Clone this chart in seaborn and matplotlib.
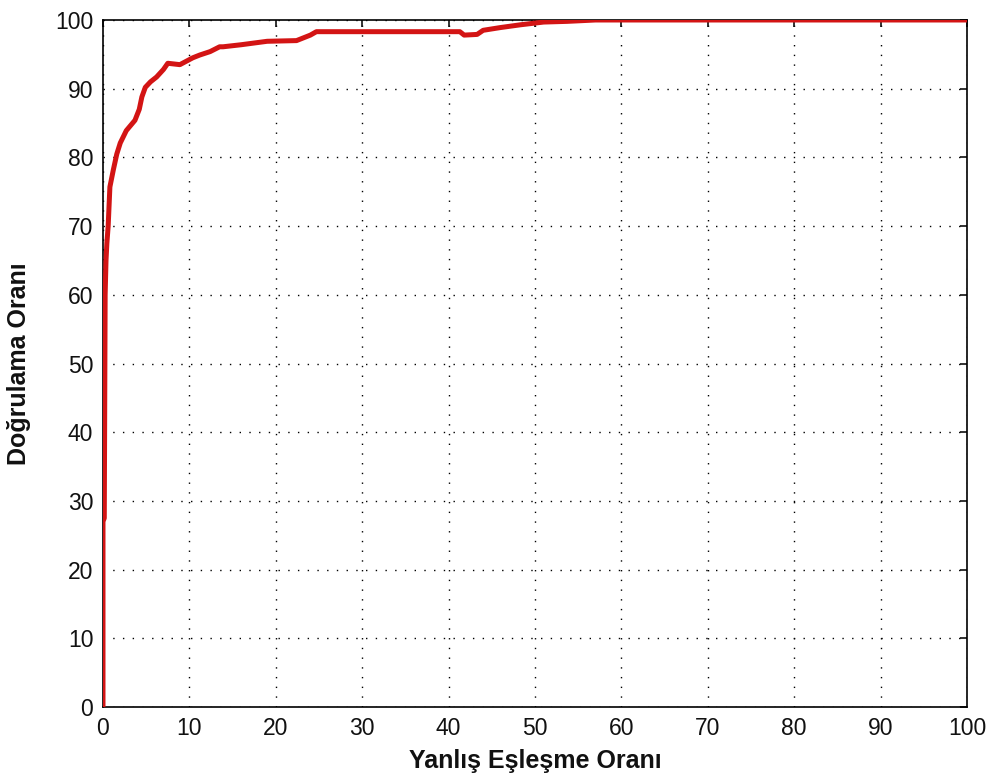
import matplotlib
matplotlib.use("Agg")
import matplotlib.pyplot as plt
import seaborn as sns
import pandas as pd

# ROC-style curve: false match rate vs. verification rate (percent)
false_match_rate = [0.0, 0.0, 0.15, 0.25, 0.35, 0.45, 0.6, 0.8, 1.2, 1.6, 2.0, 2.7,
                    3.7, 4.2, 4.5, 4.9, 5.5, 6.2, 7.0, 7.5, 8.9, 10.4, 11.2,
                    12.4, 13.5, 13.9, 16.0, 19.0, 22.4, 24.0, 24.7, 30.0,
                    35.0, 41.3, 41.8, 43.3, 44.0, 46.0, 48.3, 51.0, 53.7,
                    57.0, 70.0, 85.0, 100.0]
verification_rate = [0.0, 27.0, 27.5, 60.0, 65.0, 67.5, 70.0, 75.7, 78.2, 80.5, 82.1, 83.9,
                     85.4, 87.0, 88.8, 90.2, 91.0, 91.7, 92.8, 93.7, 93.5, 94.5, 94.9,
                     95.4, 96.1, 96.1, 96.4, 96.9, 97.0, 97.8, 98.3, 98.3,
                     98.3, 98.3, 97.8, 97.9, 98.5, 98.9, 99.3, 99.7, 99.8,
                     100.0, 100.0, 100.0, 100.0]
tick_values = list(range(0, 101, 10))

df = pd.DataFrame({"far": false_match_rate, "vr": verification_rate})

sns.set_style("white")
plt.rcParams["font.family"] = ["Liberation Sans", "DejaVu Sans"]

fig = plt.figure(figsize=(9.95, 7.84), dpi=100)
ax = fig.add_axes([0.1035, 0.0982, 0.8684, 0.8763])

sns.lineplot(data=df, x="far", y="vr", ax=ax, color="#d31414",
             linewidth=3.6, sort=False, estimator=None, zorder=3)

ax.set_xlim(0, 100)
ax.set_ylim(0, 100)
ax.set_xticks(tick_values)
ax.set_yticks(tick_values)
ax.set_xticklabels([str(v) for v in tick_values])
ax.set_yticklabels([str(v) for v in tick_values])

ax.grid(True, color="black", linestyle=(0, (1, 6)), linewidth=1.0)
ax.set_axisbelow(True)

for side in ["left", "right", "top", "bottom"]:
    ax.spines[side].set_visible(True)
    ax.spines[side].set_color("black")
    ax.spines[side].set_linewidth(1.2)

ax.tick_params(axis="both", which="major", direction="in", length=5, width=1.2,
               top=True, right=True, labelsize=16.5, colors="#111111", pad=7)

ax.set_xlabel("Yanlış Eşleşme Oranı", fontsize=18, fontweight="bold", labelpad=7,
              color="#111111")
ax.set_ylabel("Doğrulama Oranı", fontsize=18, fontweight="bold", labelpad=17,
              color="#111111")

fig.savefig("out.png", dpi=100)
